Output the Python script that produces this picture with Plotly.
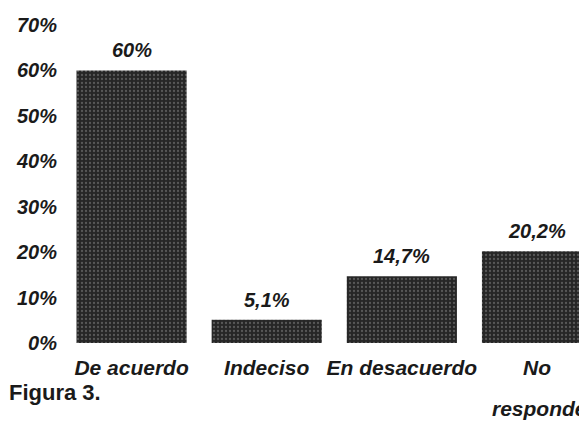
import plotly.graph_objects as go

categories = ["De acuerdo", "Indeciso", "En desacuerdo", "No responde"]
values = [60, 5.1, 14.7, 20.2]
value_labels = ["60%", "5,1%", "14,7%", "20,2%"]
tick_vals = [0, 10, 20, 30, 40, 50, 60, 70]
tick_text = ["0%", "10%", "20%", "30%", "40%", "50%", "60%", "70%"]
cat_ticktext = ["De acuerdo", "Indeciso", "En desacuerdo", "No"]

FONT = "Liberation Sans"
bi = dict(family=FONT, color="#1a1a1a", weight="bold", style="italic")

fig = go.Figure()
fig.add_trace(go.Bar(
    x=categories, y=values,
    marker=dict(
        color="#262626",
        line=dict(width=0),
        pattern=dict(shape=".", bgcolor="#262626", fgcolor="#8a8a8a", size=4, solidity=0.25),
    ),
    width=0.815,
    hoverinfo="skip",
))

annotations = []
for c, v, t in zip(categories, values, value_labels):
    annotations.append(dict(x=c, y=v, xref="x", yref="y", text=t, showarrow=False,
                            yanchor="bottom", yshift=7, font=dict(size=20, **bi)))
annotations.append(dict(x=categories[3], y=0, xref="x", yref="y", text="responde", showarrow=False,
                        yanchor="middle", xshift=2, yshift=-65, font=dict(size=21, **bi)))
annotations.append(dict(x=0, y=0, xref="paper", yref="paper", text="Figura 3.", showarrow=False,
                        xanchor="left", yanchor="middle", xshift=-57, yshift=-49,
                        font=dict(size=22, family=FONT, color="#1a1a1a", weight="bold")))

# page body has an 8px margin, so the figure is drawn 8px smaller and offset
fig.update_layout(
    width=579, height=415,
    margin=dict(l=56, r=0, t=17, b=80),
    paper_bgcolor="white", plot_bgcolor="white",
    showlegend=False,
    xaxis=dict(range=[-0.5, 3.37], tickvals=categories, ticktext=cat_ticktext,
               showline=False, showgrid=False, zeroline=False, ticks="", automargin=False,
               tickfont=dict(size=21, **bi), ticklabelstandoff=10),
    yaxis=dict(range=[0, 70], tickvals=tick_vals, ticktext=tick_text,
               showline=False, showgrid=False, zeroline=False, ticks="", automargin=False,
               tickfont=dict(size=20, **bi), ticklabelstandoff=6),
    annotations=annotations,
)

fig.write_html("out.html")
